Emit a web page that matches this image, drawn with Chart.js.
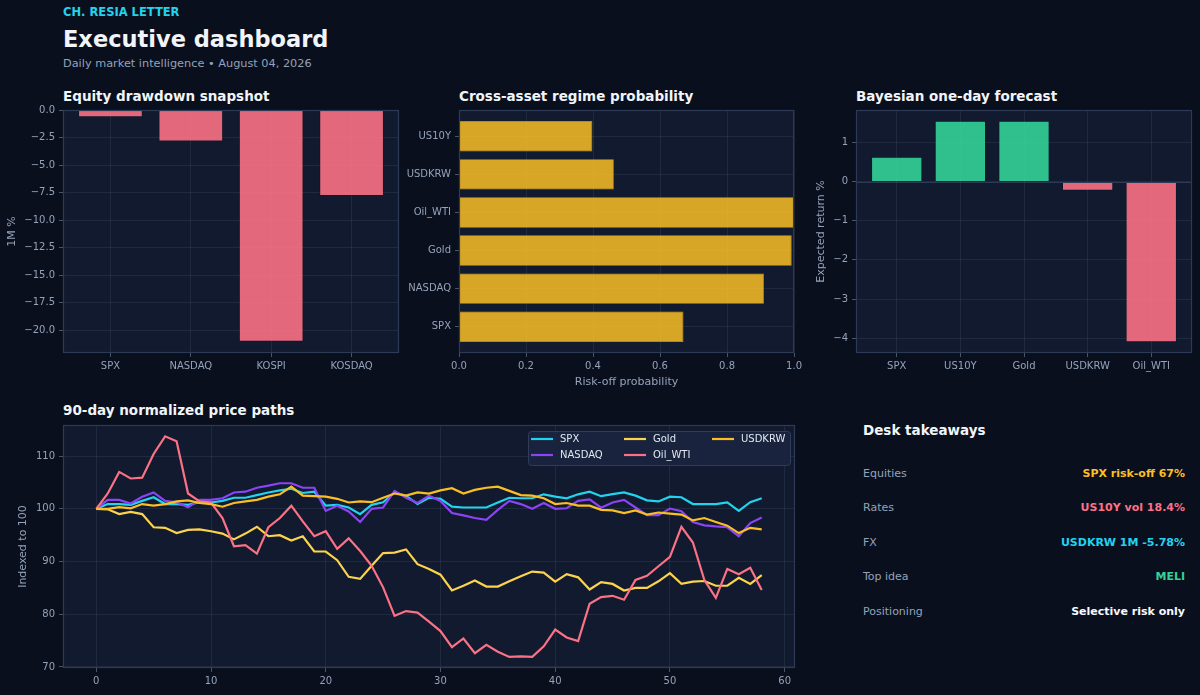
<!DOCTYPE html>
<html>
<head>
<meta charset="utf-8">
<script src="https://cdn.jsdelivr.net/npm/chart.js@4.4.0/dist/chart.umd.min.js"></script>
<style>
  html, body { margin: 0; padding: 0; background: #0a0f1e; }
  body { width: 1200px; height: 695px; position: relative; overflow: hidden; font-family: 'DejaVu Sans', sans-serif; }
  canvas { position: absolute; }
  .t { position: absolute; white-space: nowrap; line-height: 1; transform: translateY(-50%); }
  .kicker { left: 63px; top: 13px; font-size: 11.5px; font-weight: bold; color: #22d3ee; }
  .title { left: 63px; top: 38.5px; font-size: 22.5px; font-weight: bold; color: #f1f5f9; }
  .sub { left: 63px; top: 64px; font-size: 11.3px; color: #94a3b8; }
  .ct { font-size: 13.5px; font-weight: bold; color: #f1f5f9; }
  .lbl { left: 863px; font-size: 11px; color: #94a3b8; }
  .val { right: 15px; font-size: 11px; font-weight: bold; }
</style>
</head>
<body>
<div class="t kicker">CH. RESIA LETTER</div>
<div class="t title">Executive dashboard</div>
<div class="t sub">Daily market intelligence • August 04, 2026</div>

<div class="t ct" style="left:63px;top:96.5px">Equity drawdown snapshot</div>
<div class="t ct" style="left:459px;top:96.5px">Cross-asset regime probability</div>
<div class="t ct" style="left:856px;top:96.5px">Bayesian one-day forecast</div>
<div class="t ct" style="left:63px;top:411px">90-day normalized price paths</div>

<canvas id="drawdown" width="405" height="290" style="left:0;top:100px"></canvas>
<canvas id="regime" width="400" height="295" style="left:405px;top:100px"></canvas>
<canvas id="forecast" width="400" height="290" style="left:800px;top:100px"></canvas>
<canvas id="paths" width="805" height="280" style="left:0;top:415px"></canvas>

<div class="t ct" style="left:863px;top:430.7px">Desk takeaways</div>
<div id="desk"></div>

<script>
// --- data ---
const drawdownAssets = ['SPX', 'NASDAQ', 'KOSPI', 'KOSDAQ'];
const drawdownPct = [-0.63, -2.84, -21.0, -7.78];
const drawdownTicks = [0, -2.5, -5, -7.5, -10, -12.5, -15, -17.5, -20];

const regimeAssets = ['SPX', 'NASDAQ', 'Gold', 'Oil_WTI', 'USDKRW', 'US10Y'];
const riskOffProb = [0.67, 0.91, 0.993, 1.0, 0.462, 0.398];
const probTicks = [0, 0.2, 0.4, 0.6, 0.8, 1.0];

const forecastAssets = ['SPX', 'US10Y', 'Gold', 'USDKRW', 'Oil_WTI'];
const expectedReturn = [0.63, 1.55, 1.55, -0.23, -4.10];
const returnTicks = [1, 0, -1, -2, -3, -4];

const pathNames = ['SPX', 'NASDAQ', 'Gold', 'Oil_WTI', 'USDKRW'];
const spxPath = [100, 100.9, 100.9, 100.75, 101.5, 102.2, 100.9, 100.9, 100.75, 101.25,
  101.2, 101.5, 102.1, 102.1, 102.6, 103.1, 103.5, 103.8, 103.0, 103.25,
  100.6, 100.75, 100.25, 99.0, 100.75, 101.25, 103.1, 102.5, 100.9, 102.1,
  101.9, 100.4, 100.25, 100.25, 100.25, 101.2, 102.1, 102.0, 102.0, 102.75,
  102.3, 102.0, 102.75, 103.25, 102.4, 102.8, 103.1, 102.5, 101.6, 101.4,
  102.3, 102.2, 100.9, 100.9, 100.9, 101.2, 99.6, 101.25, 102.0];
const nasdaqPath = [100, 101.7, 101.7, 101.0, 102.3, 103.1, 101.5, 101.25, 100.3, 101.7,
  101.7, 102.0, 103.1, 103.25, 104.0, 104.4, 104.85, 104.85, 104.0, 104.0,
  99.6, 100.6, 99.5, 97.5, 100.0, 100.25, 103.4, 102.1, 101.1, 102.5,
  101.5, 99.2, 98.75, 98.25, 97.9, 99.8, 101.5, 100.9, 100.0, 101.1,
  100.0, 100.1, 101.5, 101.8, 100.2, 101.2, 101.7, 100.25, 98.8, 98.8,
  100.05, 99.55, 97.5, 96.85, 96.65, 96.5, 94.8, 97.3, 98.35];
const goldPath = [100, 99.9, 99.0, 99.4, 99.0, 96.5, 96.4, 95.4, 96.0, 96.1,
  95.75, 95.3, 94.2, 95.3, 96.6, 94.8, 95.0, 94.0, 94.8, 91.9,
  91.9, 90.25, 87.1, 86.7, 89.2, 91.6, 91.7, 92.3, 89.5, 88.6,
  87.5, 84.5, 85.4, 86.4, 85.25, 85.25, 86.25, 87.2, 88.1, 87.9,
  86.2, 87.6, 87.0, 84.7, 86.1, 85.75, 84.5, 85.0, 85.0, 86.25,
  87.8, 85.75, 86.2, 86.3, 85.4, 85.4, 86.9, 85.75, 87.4];
const oilPath = [100, 102.9, 107.0, 105.75, 105.9, 110.4, 113.75, 112.8, 102.9, 101.4,
  101.2, 98.25, 92.9, 93.1, 91.5, 96.5, 98.25, 100.6, 97.6, 94.8,
  95.75, 92.4, 94.4, 92.0, 89.2, 85.1, 79.7, 80.6, 80.3, 78.6,
  76.8, 73.75, 75.4, 72.6, 74.2, 72.9, 71.9, 72.0, 71.9, 73.9,
  77.1, 75.6, 74.9, 82.0, 83.25, 83.5, 82.75, 86.5, 87.3, 89.1,
  90.9, 96.6, 93.6, 86.5, 83.1, 88.6, 87.6, 88.8, 84.6];
const usdkrwPath = [100, 100.0, 100.3, 100.1, 100.9, 100.6, 100.9, 101.4, 101.6, 101.1,
  100.9, 100.4, 101.1, 101.4, 101.7, 102.3, 102.75, 104.2, 102.5, 102.4,
  102.3, 101.9, 101.2, 101.4, 101.25, 102.1, 102.9, 102.5, 103.1, 102.9,
  103.5, 103.9, 102.9, 103.6, 104.0, 104.2, 103.4, 102.6, 102.5, 102.0,
  100.9, 101.1, 100.6, 100.6, 99.8, 99.7, 99.2, 99.7, 98.9, 99.3,
  99.1, 98.9, 97.8, 98.25, 97.5, 96.8, 95.4, 96.4, 96.1];
const days = spxPath.map((_, i) => i);
const dayTicks = [0, 10, 20, 30, 40, 50, 60];
const indexTicks = [70, 80, 90, 100, 110];

const deskLabels = ['Equities', 'Rates', 'FX', 'Top idea', 'Positioning'];
const deskValues = ['SPX risk-off 67%', 'US10Y vol 18.4%', 'USDKRW 1M -5.78%', 'MELI', 'Selective risk only'];

// --- theme ---
const C = {
    panel: '#111a2e',
    spine: '#2c3a56',
    grid: 'rgba(148,163,184,0.12)',
    tickMark: '#475569',
    label: '#94a3b8',
    text: '#e2e8f0',
    cyan: '#22d3ee',
    violet: '#8b44f4',
    gold: '#fcd34d',
    rose: '#fb7185',
    amber: '#fbbf24',
    green: '#34d399'
};
const deskColors = [C.amber, C.rose, C.cyan, C.green, '#f8fafc'];

Chart.defaults.font.family = "'DejaVu Sans', sans-serif";
Chart.defaults.font.size = 10;
Chart.defaults.color = C.label;

const minus = s => String(s).replace('-', '\u2212');
const setTicks = arr => scale => { scale.ticks = arr.map(v => ({ value: v })); };

// plot background + four-sided frame
const panelBox = {
    id: 'panelBox',
    beforeDraw(chart) {
        const { ctx, chartArea: a } = chart;
        ctx.save();
        ctx.fillStyle = C.panel;
        ctx.fillRect(a.left, a.top, a.width, a.height);
        ctx.restore();
    },
    afterDraw(chart) {
        const { ctx, chartArea: a } = chart;
        ctx.save();
        ctx.strokeStyle = C.spine;
        ctx.lineWidth = 1.2;
        ctx.strokeRect(a.left + 0.5, a.top + 0.5, a.width - 1, a.height - 1);
        ctx.restore();
    }
};

function axis(opts) {
    const base = {
        border: { display: false },
        grid: { color: C.grid, tickColor: C.tickMark, tickLength: 4, offset: false },
        ticks: { padding: 4, autoSkip: false, maxRotation: 0, color: C.label }
    };
    return Object.assign(base, opts, {
        ticks: Object.assign(base.ticks, opts.ticks || {}),
        grid: Object.assign(base.grid, opts.grid || {})
    });
}

function axisTitle(text, pad) {
    return { display: true, text: text, color: C.label, font: { size: 11 }, padding: pad };
}

const common = {
    animation: false,
    responsive: false,
    plugins: { legend: { display: false }, tooltip: { enabled: false } }
};

// Equity drawdown snapshot
new Chart(document.getElementById('drawdown'), {
    type: 'bar',
    data: {
        datasets: [{
            data: drawdownPct.map((v, i) => ({ x: i, y: v })),
            backgroundColor: 'rgba(251,113,133,0.9)',
            borderColor: 'rgba(10,15,30,0.35)',
            borderWidth: 0.8,
            categoryPercentage: 1,
            barPercentage: 0.8
        }]
    },
    options: Object.assign({}, common, {
        layout: { padding: { top: 8, right: 6, left: 0, bottom: 0 } },
        scales: {
            x: axis({
                type: 'linear', min: -0.59, max: 3.59, offset: false, z: 1,
                afterBuildTicks: setTicks(drawdownAssets.map((_, i) => i)),
                afterFit: s => { s.height = 37; },
                ticks: { padding: 3, callback: v => drawdownAssets[v] ?? '' }
            }),
            y: axis({
                type: 'linear', min: -22.05, max: 0, z: 1,
                afterBuildTicks: setTicks(drawdownTicks),
                afterFit: s => { s.width = 63; },
                ticks: { callback: v => minus(v.toFixed(1)) },
                title: axisTitle('1M %', { top: 6, bottom: 0 })
            })
        }
    }),
    plugins: [panelBox]
});

// Cross-asset regime probability
new Chart(document.getElementById('regime'), {
    type: 'bar',
    data: {
        datasets: [{
            data: riskOffProb.map((v, i) => ({ x: v, y: i })),
            backgroundColor: 'rgba(251,191,36,0.85)',
            borderColor: 'rgba(234,170,20,0.9)',
            borderWidth: 0.8,
            categoryPercentage: 1,
            barPercentage: 0.8
        }]
    },
    options: Object.assign({}, common, {
        indexAxis: 'y',
        layout: { padding: { top: 8, right: 10, left: 0, bottom: 0 } },
        scales: {
            x: axis({
                type: 'linear', min: 0, max: 1, z: 1,
                afterBuildTicks: setTicks(probTicks),
                afterFit: s => { s.height = 42; },
                ticks: { padding: 3, callback: v => v.toFixed(1) },
                title: axisTitle('Risk-off probability', { top: 0, bottom: 6 })
            }),
            y: axis({
                type: 'linear', min: -0.69, max: 5.69, offset: false, z: 1,
                afterBuildTicks: setTicks(regimeAssets.map((_, i) => i)),
                afterFit: s => { s.width = 54; },
                ticks: { callback: v => regimeAssets[v] ?? '' }
            })
        }
    }),
    plugins: [panelBox]
});

// Bayesian one-day forecast
const zeroLine = {
    id: 'zeroLine',
    afterDraw(chart) {
        const { ctx, chartArea: a, scales } = chart;
        const y = Math.round(scales.y.getPixelForValue(0)) + 0.5;
        ctx.save();
        ctx.strokeStyle = C.spine;
        ctx.lineWidth = 1.2;
        ctx.beginPath();
        ctx.moveTo(a.left, y);
        ctx.lineTo(a.right, y);
        ctx.stroke();
        ctx.restore();
    }
};
new Chart(document.getElementById('forecast'), {
    type: 'bar',
    data: {
        datasets: [{
            data: expectedReturn.map((v, i) => ({ x: i, y: v })),
            backgroundColor: expectedReturn.map(v => v >= 0 ? 'rgba(52,211,153,0.9)' : 'rgba(251,113,133,0.9)'),
            borderColor: 'rgba(10,15,30,0.35)',
            borderWidth: 0.8,
            categoryPercentage: 1,
            barPercentage: 0.8
        }]
    },
    options: Object.assign({}, common, {
        layout: { padding: { top: 8, right: 8, left: 0, bottom: 0 } },
        scales: {
            x: axis({
                type: 'linear', min: -0.64, max: 4.64, offset: false, z: 1,
                afterBuildTicks: setTicks(forecastAssets.map((_, i) => i)),
                afterFit: s => { s.height = 37; },
                ticks: { padding: 3, callback: v => forecastAssets[v] ?? '' }
            }),
            y: axis({
                type: 'linear', min: -4.38, max: 1.83, z: 1,
                afterBuildTicks: setTicks(returnTicks),
                afterFit: s => { s.width = 56; },
                ticks: { callback: v => minus(v) },
                title: axisTitle('Expected return %', { top: 15, bottom: 0 })
            })
        }
    }),
    plugins: [panelBox, zeroLine]
});

// 90-day normalized price paths
const pathLegend = {
    id: 'pathLegend',
    afterDraw(chart) {
        const { ctx, chartArea: a } = chart;
        const boxW = 262, boxH = 34;
        const x0 = a.right - 5 - boxW, y0 = a.top + 6;
        const colX = [3, 96, 184];
        ctx.save();
        ctx.fillStyle = 'rgba(26,36,62,0.95)';
        ctx.strokeStyle = '#2f3c5a';
        ctx.lineWidth = 1;
        ctx.beginPath();
        ctx.roundRect(x0 + 0.5, y0 + 0.5, boxW, boxH, 3);
        ctx.fill();
        ctx.stroke();
        ctx.font = "10px 'DejaVu Sans', sans-serif";
        ctx.textBaseline = 'middle';
        ctx.fillStyle = C.text;
        chart.data.datasets.forEach((ds, i) => {
            const hx = x0 + colX[Math.floor(i / 2)];
            const hy = y0 + 8 + (i % 2) * 16;
            ctx.strokeStyle = ds.borderColor;
            ctx.lineWidth = 2.2;
            ctx.beginPath();
            ctx.moveTo(hx, hy);
            ctx.lineTo(hx + 22, hy);
            ctx.stroke();
            ctx.fillText(ds.label, hx + 29, hy + 0.5);
        });
        ctx.restore();
    }
};
const pathValues = [spxPath, nasdaqPath, goldPath, oilPath, usdkrwPath];
const pathColors = [C.cyan, C.violet, C.gold, C.rose, C.amber];
new Chart(document.getElementById('paths'), {
    type: 'line',
    data: {
        labels: days,
        datasets: pathNames.map((name, i) => ({
            label: name,
            data: pathValues[i],
            borderColor: pathColors[i],
            borderWidth: 2.2,
            pointRadius: 0,
            tension: 0,
            order: pathNames.length - 1 - i
        }))
    },
    options: Object.assign({}, common, {
        layout: { padding: { top: 7, right: 10, left: 0, bottom: 0 } },
        scales: {
            x: axis({
                type: 'linear', min: -2.9, max: 60.9,
                afterBuildTicks: setTicks(dayTicks),
                afterFit: s => { s.height = 27; },
                ticks: { padding: 3 }
            }),
            y: axis({
                type: 'linear', min: 69.8, max: 115.9,
                afterBuildTicks: setTicks(indexTicks),
                afterFit: s => { s.width = 63; },
                title: axisTitle('Indexed to 100', { top: 17, bottom: 0 })
            })
        }
    }),
    plugins: [panelBox, pathLegend]
});

// Desk takeaways
const desk = document.getElementById('desk');
deskLabels.forEach((lab, i) => {
    const top = 472.7 + i * 34.5;
    const l = document.createElement('div');
    l.className = 't lbl';
    l.style.top = top + 'px';
    l.textContent = lab;
    const v = document.createElement('div');
    v.className = 't val';
    v.style.top = top + 'px';
    v.style.color = deskColors[i];
    v.textContent = deskValues[i];
    desk.appendChild(l);
    desk.appendChild(v);
});
</script>
</body>
</html>
